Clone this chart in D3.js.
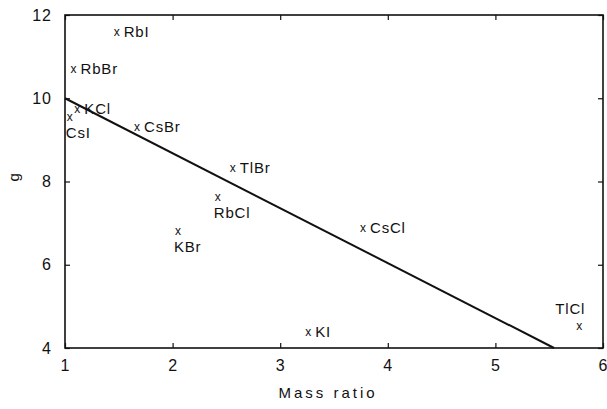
<!DOCTYPE html>
<html>
<head>
<meta charset="utf-8">
<script src="https://cdn.jsdelivr.net/npm/d3@7"></script>
<style>
body { margin: 0; background: #fff; }
text { font-family: "Liberation Sans", Arial, sans-serif; fill: #111; }
</style>
</head>
<body>
<script>
var salts = ["RbI", "RbBr", "KCl", "CsI", "CsBr", "TlBr", "RbCl", "KBr", "CsCl", "KI", "TlCl"];
var massRatio = [1.48, 1.08, 1.115, 1.045, 1.67, 2.56, 2.42, 2.05, 3.77, 3.26, 5.78];
var gValues = [11.59, 10.70, 9.73, 9.55, 9.31, 8.32, 7.63, 6.81, 6.88, 4.38, 4.52];
// where each label sits relative to its marker
var labelPos = ["right", "right", "right", "below", "right", "right", "below", "below", "right", "right", "above"];
var fitX = [1, 5.545];
var fitY = [10, 4];
var xTicks = [1, 2, 3, 4, 5, 6];
var yTicks = [4, 6, 8, 10, 12];

var chart = (function() {
    var w = 607, h = 409;
    var margin = {left: 65, right: 4, top: 15, bottom: 61};

    var svg = d3.select("body")
                .append("svg")
                .attr("width", w)
                .attr("height", h);

    var xScale = d3.scaleLinear()
                    .domain([1, 6])
                    .range([margin.left, w - margin.right]);

    var yScale = d3.scaleLinear()
                    .domain([4, 12])
                    .range([h - margin.bottom, margin.top]);

    // frame
    svg.append("rect")
        .attr("x", xScale(1))
        .attr("y", yScale(12))
        .attr("width", xScale(6) - xScale(1))
        .attr("height", yScale(4) - yScale(12))
        .attr("fill", "none")
        .attr("stroke", "#111")
        .attr("stroke-width", 1.6);

    var xAxis = d3.axisBottom(xScale)
                .tickValues(xTicks)
                .tickSize(-5)
                .tickPadding(12)
                .tickFormat(d3.format("d"));

    var yAxis = d3.axisLeft(yScale)
                .tickValues(yTicks)
                .tickSize(-5)
                .tickPadding(13)
                .tickFormat(d3.format("d"));

    svg.append("g")
        .attr("transform", "translate(0," + yScale(4) + ")")
        .call(xAxis);

    svg.append("g")
        .attr("transform", "translate(" + xScale(1) + ",0)")
        .call(yAxis);

    // mirrored ticks on top and right
    svg.append("g")
        .attr("transform", "translate(0," + yScale(12) + ")")
        .call(d3.axisTop(xScale).tickValues(xTicks).tickSize(-5).tickFormat(""));

    svg.append("g")
        .attr("transform", "translate(" + xScale(6) + ",0)")
        .call(d3.axisRight(yScale).tickValues(yTicks).tickSize(-5).tickFormat(""));

    svg.selectAll(".domain").remove();
    svg.selectAll(".tick line").attr("stroke", "#111").attr("stroke-width", 1.2);
    svg.selectAll(".tick text")
        .attr("font-size", 16)
        .attr("letter-spacing", 1)
        .style("font-family", "'Liberation Sans', Arial, sans-serif")
        .attr("fill", "#111");

    // fitted line
    svg.append("line")
        .attr("x1", xScale(fitX[0]))
        .attr("y1", yScale(fitY[0]))
        .attr("x2", xScale(fitX[1]))
        .attr("y2", yScale(fitY[1]))
        .attr("stroke", "#111")
        .attr("stroke-width", 2);

    var pts = salts.map(function(s, i) {
        return {name: s, x: massRatio[i], y: gValues[i], pos: labelPos[i]};
    });

    var pointGroup = svg.append("g");

    pointGroup.selectAll("text.mark")
        .data(pts)
        .enter()
        .append("text")
        .attr("class", "mark")
        .attr("x", d => xScale(d.x))
        .attr("y", d => yScale(d.y))
        .attr("dy", "0.3em")
        .attr("text-anchor", "middle")
        .attr("font-size", 12)
        .text("x");

    pointGroup.selectAll("text.label")
        .data(pts)
        .enter()
        .append("text")
        .attr("class", "label")
        .attr("x", function(d) {
            if (d.pos == "right") return xScale(d.x) + 7;
            if (d.pos == "above") return xScale(d.x) - 24;
            return xScale(d.x) - 4;
        })
        .attr("y", function(d) {
            if (d.pos == "below") return yScale(d.y) + 21;
            if (d.pos == "above") return yScale(d.y) - 12;
            return yScale(d.y) + 5;
        })
        .attr("font-size", 15)
        .attr("letter-spacing", 0.8)
        .text(d => d.name);

    svg.append("text")
        .attr("x", (xScale(1) + xScale(6)) / 2 - 6)
        .attr("y", h - 11)
        .attr("text-anchor", "middle")
        .attr("font-size", 15)
        .attr("letter-spacing", 3)
        .text("Mass ratio");

    svg.append("text")
        .attr("transform", "translate(19," + yScale(8.1) + ") rotate(-90)")
        .attr("text-anchor", "middle")
        .attr("font-size", 15)
        .text("g");
})();
</script>
</body>
</html>
